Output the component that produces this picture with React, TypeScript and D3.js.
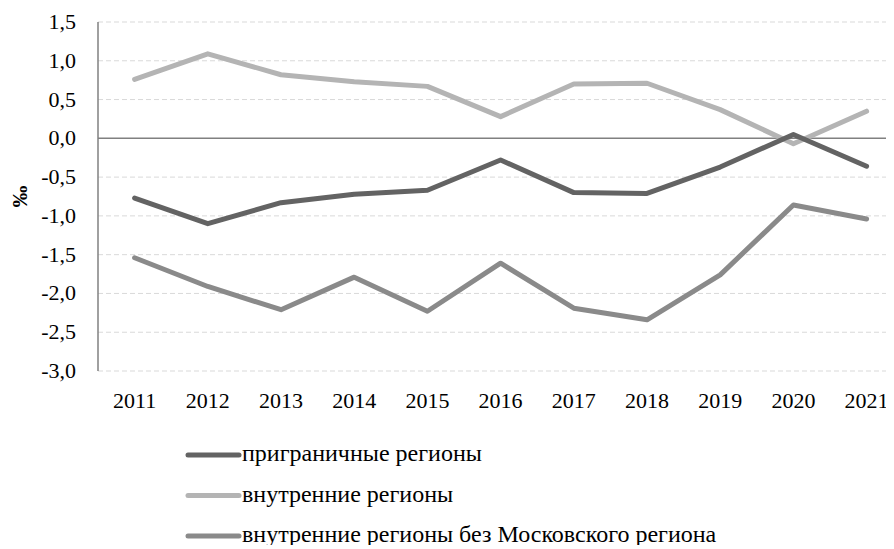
import React, { useEffect, useRef } from "react";
import * as d3 from "d3";

const years = ["2011", "2012", "2013", "2014", "2015", "2016", "2017", "2018", "2019", "2020", "2021"];
const border = [-0.77, -1.1, -0.83, -0.72, -0.67, -0.28, -0.7, -0.71, -0.37, 0.05, -0.36];
const inner = [0.76, 1.09, 0.82, 0.73, 0.67, 0.28, 0.7, 0.71, 0.37, -0.07, 0.35];
const innerNoMoscow = [-1.54, -1.91, -2.21, -1.79, -2.23, -1.61, -2.19, -2.34, -1.76, -0.86, -1.04];
const yTicks = [1.5, 1.0, 0.5, 0.0, -0.5, -1.0, -1.5, -2.0, -2.5, -3.0];
const seriesNames = [
  "приграничные регионы",
  "внутренние регионы",
  "внутренние регионы без Московского региона",
];
const colors = ["#636363", "#b4b4b4", "#8a8a8a"];

function App() {
  const svgRef = useRef();

  useEffect(() => {
    const width = 894;
    const height = 549;
    const margin = { top: 22, right: 0, bottom: 178, left: 98 };
    const band = 73.2;

    const svg = d3.select(svgRef.current);
    svg.selectAll("*").remove();
    svg
      .attr("width", width)
      .attr("height", height)
      .attr("font-family", "Liberation Serif");

    const xScale = d3
      .scalePoint()
      .domain(years)
      .range([margin.left + band / 2, margin.left + band * 10.5]);
    const yScale = d3
      .scaleLinear()
      .domain([-3, 1.5])
      .range([height - margin.bottom, margin.top]);

    // dashed grid
    svg
      .append("g")
      .selectAll("line")
      .data(yTicks.filter((d) => d !== 0))
      .join("line")
      .attr("x1", margin.left)
      .attr("x2", width)
      .attr("y1", (d) => yScale(d))
      .attr("y2", (d) => yScale(d))
      .attr("stroke", "#d9d9d9")
      .attr("stroke-width", 1)
      .attr("stroke-dasharray", "5,3");

    // zero line
    svg
      .append("line")
      .attr("x1", margin.left)
      .attr("x2", width)
      .attr("y1", yScale(0))
      .attr("y2", yScale(0))
      .attr("stroke", "#808080")
      .attr("stroke-width", 1.5);

    // y axis line
    svg
      .append("line")
      .attr("x1", margin.left)
      .attr("x2", margin.left)
      .attr("y1", yScale(1.5))
      .attr("y2", yScale(-3))
      .attr("stroke", "#808080")
      .attr("stroke-width", 1.5);

    // y tick labels
    svg
      .append("g")
      .selectAll("text")
      .data(yTicks)
      .join("text")
      .attr("x", 76)
      .attr("y", (d) => yScale(d) + 7)
      .attr("text-anchor", "end")
      .attr("font-size", 22)
      .text((d) => d3.format(".1f")(d).replace(".", ",").replace("−", "-"));

    // x tick labels
    svg
      .append("g")
      .selectAll("text")
      .data(years)
      .join("text")
      .attr("x", (d) => xScale(d))
      .attr("y", 408)
      .attr("text-anchor", "middle")
      .attr("font-size", 22)
      .text((d) => d);

    // y axis title
    svg
      .append("text")
      .attr("transform", `translate(27, ${yScale(-0.75)}) rotate(-90)`)
      .attr("text-anchor", "middle")
      .attr("font-size", 22)
      .attr("font-weight", "bold")
      .text("‰");

    const allSeries = [border, inner, innerNoMoscow];
    const line = d3
      .line()
      .x((d, i) => xScale(years[i]))
      .y((d) => yScale(d));

    // dark on top
    [2, 1, 0].forEach((k) => {
      svg
        .append("path")
        .datum(allSeries[k])
        .attr("fill", "none")
        .attr("stroke", colors[k])
        .attr("stroke-width", 5)
        .attr("stroke-linejoin", "round")
        .attr("stroke-linecap", "round")
        .attr("d", line);
    });

    // legend
    const legend = svg.append("g").attr("transform", "translate(188, 455)");
    seriesNames.forEach((name, i) => {
      const y = i * 40.5;
      legend
        .append("line")
        .attr("x1", 0)
        .attr("x2", 51)
        .attr("y1", y)
        .attr("y2", y)
        .attr("stroke", colors[i])
        .attr("stroke-width", 5)
        .attr("stroke-linecap", "round");
      legend
        .append("text")
        .attr("x", 54)
        .attr("y", y + 6)
        .attr("font-size", 24)
        .text(name);
    });
  }, []);

  return (
    <div style={{ margin: -8 }}>
      <svg ref={svgRef}></svg>
    </div>
  );
}

export default App;
